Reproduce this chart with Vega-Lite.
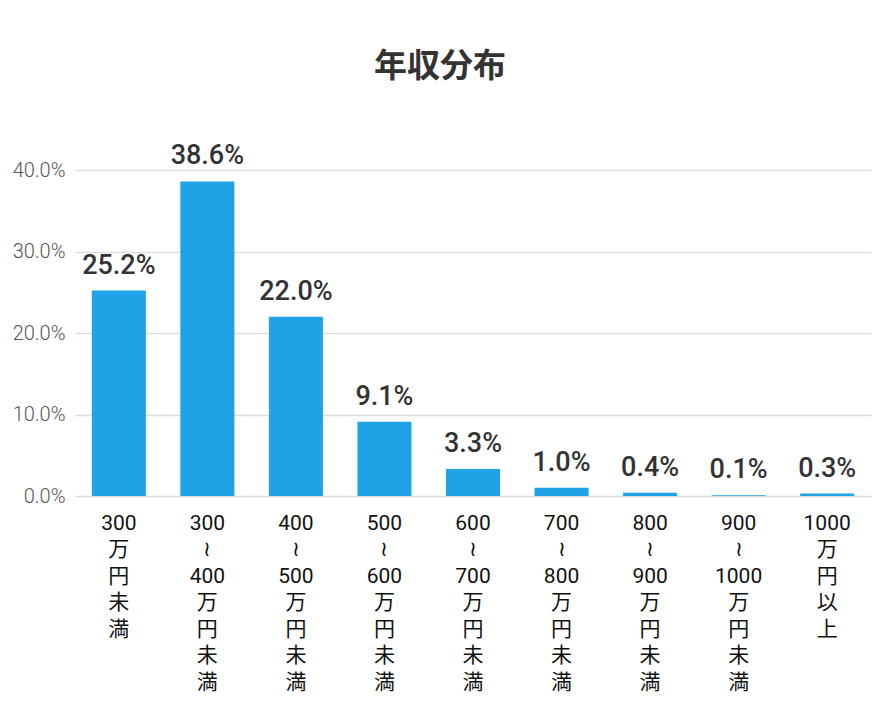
{
  "$schema": "https://vega.github.io/schema/vega-lite/v6.json",
  "width": 796,
  "height": 326,
  "autosize": {"type": "none"},
  "padding": {"left": 75, "top": 170, "right": 9, "bottom": 224},
  "background": "white",
  "title": {
    "text": "年収分布",
    "font": "Noto Sans CJK JP",
    "fontSize": 33,
    "fontWeight": "bold",
    "color": "#333333",
    "anchor": "middle",
    "dx": -33,
    "offset": 58
  },
  "config": {
    "view": {"stroke": null},
    "font": "Roboto, Noto Sans CJK JP"
  },
  "data": {
    "values": [
      {"label": "300\n万\n円\n未\n満", "value": 0.252, "text": "25.2%"},
      {"label": "300\n≀\n400\n万\n円\n未\n満", "value": 0.386, "text": "38.6%"},
      {"label": "400\n≀\n500\n万\n円\n未\n満", "value": 0.220, "text": "22.0%"},
      {"label": "500\n≀\n600\n万\n円\n未\n満", "value": 0.091, "text": "9.1%"},
      {"label": "600\n≀\n700\n万\n円\n未\n満", "value": 0.033, "text": "3.3%"},
      {"label": "700\n≀\n800\n万\n円\n未\n満", "value": 0.010, "text": "1.0%"},
      {"label": "800\n≀\n900\n万\n円\n未\n満", "value": 0.004, "text": "0.4%"},
      {"label": "900\n≀\n1000\n万\n円\n未\n満", "value": 0.001, "text": "0.1%"},
      {"label": "1000\n万\n円\n以\n上", "value": 0.003, "text": "0.3%"}
    ]
  },
  "encoding": {
    "x": {
      "field": "label",
      "type": "nominal",
      "sort": null,
      "scale": {"paddingInner": 0.39, "paddingOuter": 0.19},
      "axis": {
        "title": null,
        "labelAngle": 0,
        "labelExpr": "split(datum.label, '\\n')",
        "labelFont": "Roboto, Noto Sans CJK JP",
        "labelFontSize": 21,
        "labelLineHeight": 26.5,
        "labelColor": "#111111",
        "labelPadding": 16,
        "labelBaseline": "top",
        "ticks": false,
        "domain": false
      }
    },
    "y": {
      "field": "value",
      "type": "quantitative",
      "scale": {"domain": [0, 0.4], "nice": false},
      "axis": {
        "title": null,
        "format": ".1%",
        "values": [0, 0.1, 0.2, 0.3, 0.4],
        "labelFont": "Roboto",
        "labelFontWeight": 300,
        "labelFontSize": 20,
        "labelColor": "#555555",
        "labelPadding": 10,
        "ticks": false,
        "domain": false,
        "gridColor": "#dddddd",
        "gridWidth": 1.5
      }
    }
  },
  "layer": [
    {
      "mark": {"type": "bar", "color": "#1fa3e6"}
    },
    {
      "mark": {
        "type": "text",
        "baseline": "alphabetic",
        "dy": -17,
        "font": "Roboto",
        "fontSize": 27,
        "fontWeight": 500,
        "color": "#333333"
      },
      "encoding": {"text": {"field": "text"}}
    }
  ]
}
